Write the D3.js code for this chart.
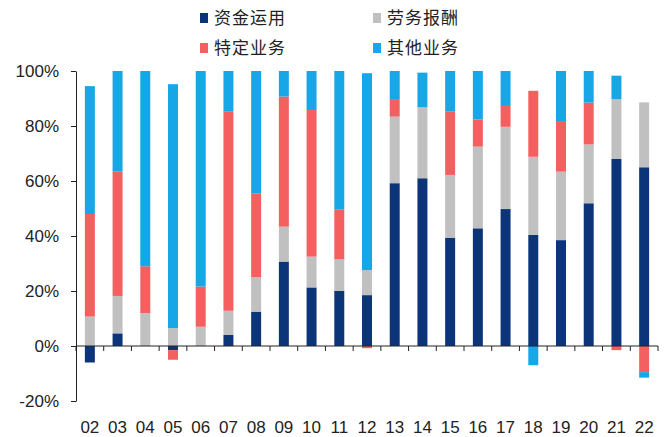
<!DOCTYPE html>
<html><head><meta charset="utf-8">
<script src="https://cdn.jsdelivr.net/npm/d3@7"></script>
<style>body{margin:0;background:#fff}</style>
</head><body>
<svg id="c" width="672" height="437"></svg>
<script>
const categories = ["02","03","04","05","06","07","08","09","10","11","12","13","14","15","16","17","18","19","20","21","22"];
const seriesNames = ["资金运用","劳务报酬","特定业务","其他业务"];
const fundUse   = [-6, 4.6, 0, -1.5, 0, 4, 12.5, 30.7, 21.3, 20, 18.5, 59.2, 61, 39.4, 42.8, 49.8, 40.4, 38.5, 51.9, 68, 65];
const labor     = [10.7, 13.6, 12, 6.5, 7, 8.8, 12.5, 12.7, 11.2, 11.5, 9.1, 24.2, 25.8, 22.8, 29.7, 29.9, 28.4, 24.9, 21.4, 21.7, 23.6];
const special   = [37.3, 45.2, 17, -3.5, 14.6, 72.4, 30.5, 47.3, 53.3, 18.2, -0.8, 6.1, 0, 23, 9.9, 7.6, 24, 18.4, 15.2, -1.5, -9.5];
const other     = [46.5, 36.6, 71, 88.7, 78.4, 14.8, 44.5, 9.3, 14.2, 50.3, 71.6, 10.5, 12.6, 14.8, 17.6, 12.7, -7, 18.2, 11.5, 8.6, -2];
const yTicks = [-20, 0, 20, 40, 60, 80, 100];
const colors = ["#0b3479", "#c0c0c0", "#f3605f", "#17a6e6"];

const svg = d3.select("#c");
const L = 76, R = 658, T = 71, B = 401;
const x = d3.scaleBand().domain(categories).range([L, R]).paddingInner(0.64).paddingOuter(0.32);
const y = d3.scaleLinear().domain([-20, 100]).range([B, T]);

const rows = categories.map((c, i) => ({cat: c, s0: fundUse[i], s1: labor[i], s2: special[i], s3: other[i]}));
const stack = d3.stack().keys(["s0","s1","s2","s3"]).offset(d3.stackOffsetDiverging);
const layers = stack(rows);

svg.append("g").selectAll("g").data(layers).join("g")
  .attr("fill", (d, i) => colors[i])
  .selectAll("rect").data(d => d).join("rect")
  .attr("x", d => x(d.data.cat))
  .attr("width", x.bandwidth())
  .attr("y", d => y(Math.max(d[0], d[1])))
  .attr("height", d => Math.abs(y(d[0]) - y(d[1])));

// y axis
const yAxis = svg.append("g").attr("transform", `translate(${L},0)`)
  .call(d3.axisLeft(y).tickValues(yTicks).tickFormat(d => d + "%").tickSize(5).tickSizeOuter(0));
yAxis.select(".domain").attr("stroke", "#222");
yAxis.selectAll(".tick line").attr("stroke", "#222");
yAxis.selectAll("text").attr("font-family", "Liberation Sans, Arial, sans-serif").attr("font-size", 17).attr("fill", "#222").attr("x", -17);

// x axis at 0
const step = x.step();
const xg = svg.append("g").attr("transform", `translate(0,${y(0)})`);
xg.append("line").attr("x1", L).attr("x2", R).attr("stroke", "#222");
const bounds = categories.map(c => x(c) + x.bandwidth()/2 - step/2).concat([x(categories[categories.length-1]) + x.bandwidth()/2 + step/2]);
xg.selectAll(".tk").data(bounds).join("line").attr("class","tk")
  .attr("x1", d => d).attr("x2", d => d).attr("y1", 0).attr("y2", 5).attr("stroke", "#222");

svg.append("g").selectAll("text").data(categories).join("text")
  .attr("x", d => x(d) + x.bandwidth()/2)
  .attr("y", 433)
  .attr("text-anchor", "middle")
  .attr("font-family", "Liberation Sans, Arial, sans-serif")
  .attr("font-size", 17).attr("fill", "#222")
  .text(d => d);

// legend
const legPos = [[200, 18], [373, 18], [200, 48], [373, 48]];
const lg = svg.append("g").selectAll("g").data(seriesNames).join("g")
  .attr("transform", (d, i) => `translate(${legPos[i][0]},${legPos[i][1]})`);
lg.append("rect").attr("x", 0).attr("y", -5).attr("width", 8).attr("height", 10).attr("fill", (d, i) => colors[i]);
lg.append("text").attr("x", 14).attr("y", 0).attr("dy", "0.36em")
  .attr("font-family", "Noto Sans CJK SC, sans-serif").attr("font-size", 17).attr("fill", "#222")
  .attr("letter-spacing", 1)
  .text(d => d);
</script>
</body></html>
